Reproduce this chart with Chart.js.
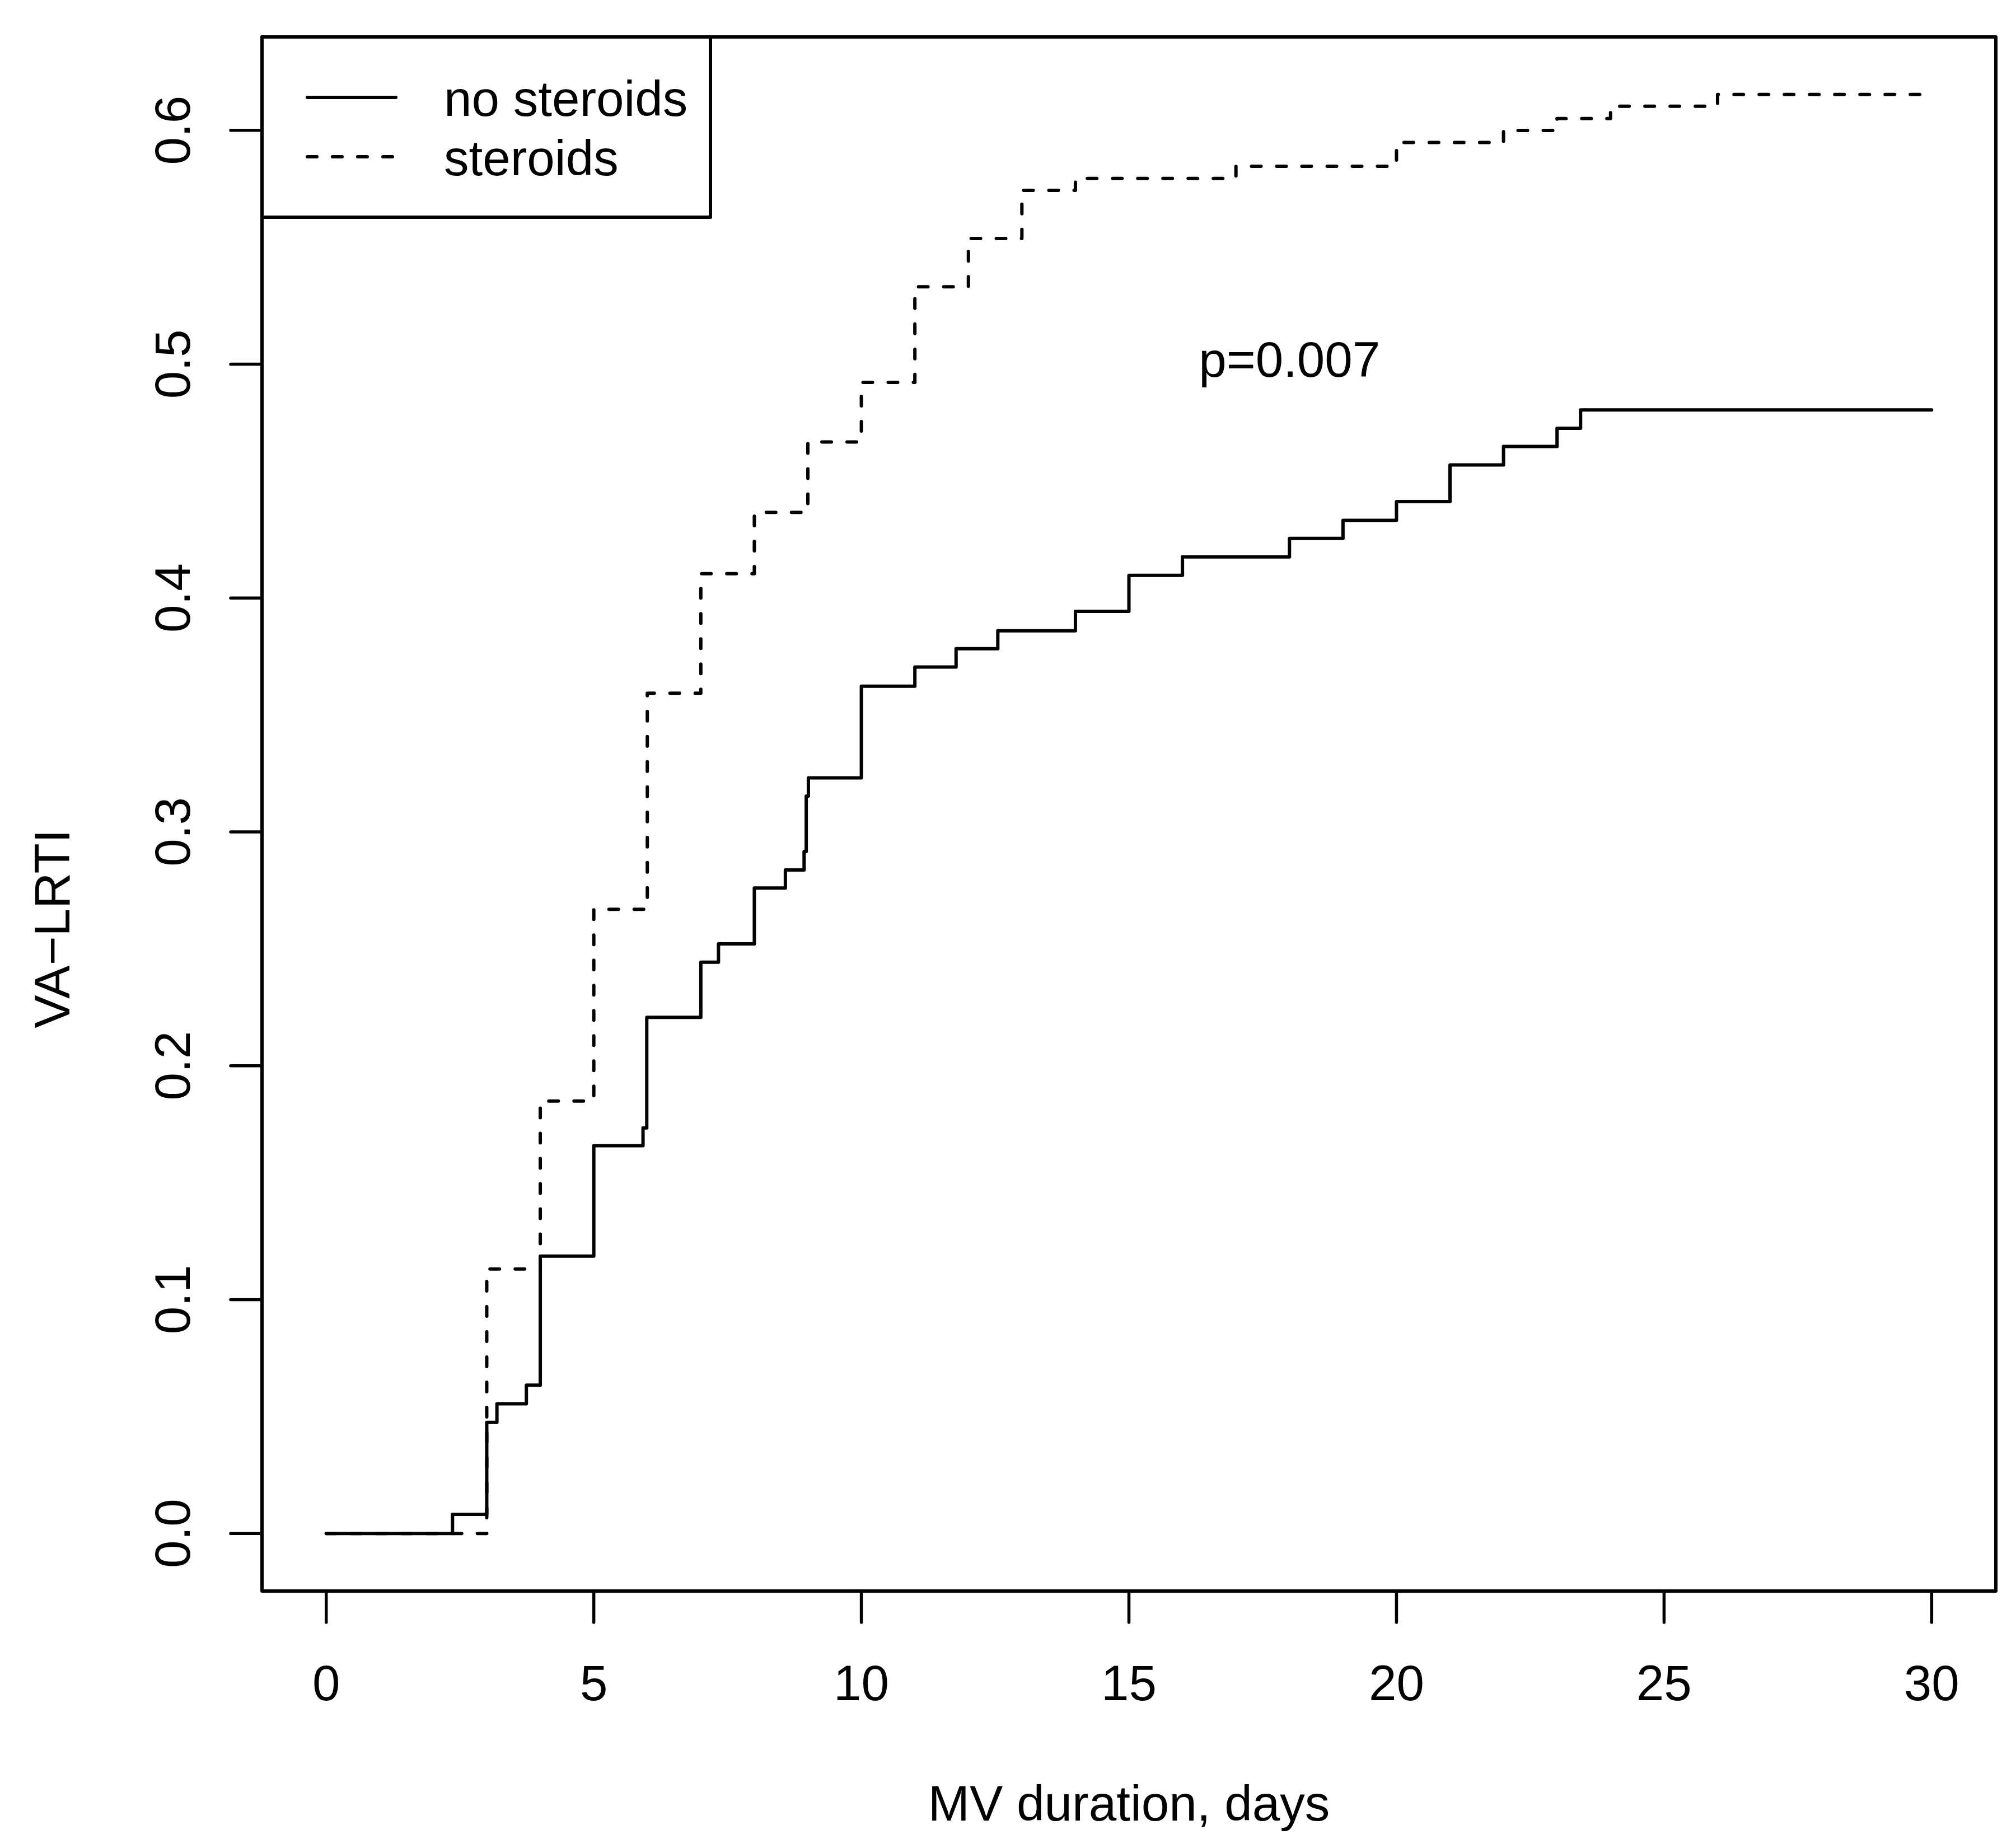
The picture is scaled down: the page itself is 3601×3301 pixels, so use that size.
<!DOCTYPE html>
<html><head><meta charset="utf-8">
<script src="https://cdn.jsdelivr.net/npm/chart.js@4.4.1/dist/chart.umd.min.js"></script>
<style>html,body{margin:0;padding:0;background:#fff;overflow:hidden}canvas{display:block}</style>
</head><body>
<canvas id="c" width="3601" height="3301" style="width:3601px;height:3301px"></canvas>
<script>
// ---- data ----
const noSteroidsT = [0, 2.36, 3.0, 3.19, 3.74, 4.0, 5.0, 5.92, 5.99, 7.0, 7.33, 8.0, 8.58, 8.93, 8.97, 9.01, 10.0, 11.0, 11.77, 12.55, 14.0, 15.0, 16.0, 18.0, 19.0, 20.0, 21.0, 22.0, 23.0, 23.44, 30];
const noSteroidsY = [0, 0.0082, 0.0475, 0.0555, 0.0634, 0.1186, 0.1658, 0.1734, 0.2207, 0.2443, 0.2521, 0.2760, 0.2837, 0.2916, 0.3153, 0.3231, 0.3623, 0.3705, 0.3783, 0.3860, 0.3943, 0.4097, 0.4176, 0.4255, 0.4332, 0.4412, 0.4569, 0.4648, 0.4726, 0.4804, 0.4804];
const steroidsT = [0, 3.0, 4.0, 5.0, 6.0, 7.0, 8.0, 9.0, 10.0, 11.0, 12.0, 13.0, 14.0, 17.0, 20.0, 22.0, 23.0, 24.0, 26.0, 30];
const steroidsY = [0, 0.1131, 0.1849, 0.2669, 0.3593, 0.4104, 0.4366, 0.4667, 0.4922, 0.5331, 0.5537, 0.5743, 0.5794, 0.5846, 0.5948, 0.5999, 0.6050, 0.6103, 0.6153, 0.6153];
const seriesNames = ['no steroids', 'steroids'];
const xTicks = [0, 5, 10, 15, 20, 25, 30];
const yTicks = [0, 0.1, 0.2, 0.3, 0.4, 0.5, 0.6];
const yTickLabels = ['0.0', '0.1', '0.2', '0.3', '0.4', '0.5', '0.6'];
const xTitle = 'MV duration, days';
const yTitle = 'VA\u2212LRTI';
const pText = 'p=0.007';
const pPos = [18, 0.5];
const xRange = [-1.2, 31.2];
const yRange = [-0.0246, 0.6399];

const FONT = '89px "Liberation Sans", Arial, Helvetica, sans-serif';

function seg(ctx, x1, y1, x2, y2) { ctx.beginPath(); ctx.moveTo(x1, y1); ctx.lineTo(x2, y2); ctx.stroke(); }

const decor = {
  id: 'decor',
  beforeDraw(chart) {
    const ctx = chart.ctx;
    ctx.save(); ctx.fillStyle = '#fff'; ctx.fillRect(0, 0, chart.width, chart.height); ctx.restore();
  },
  afterDraw(chart) {
    const { ctx, chartArea: a, scales: { x, y } } = chart;
    ctx.save();
    ctx.strokeStyle = '#000'; ctx.fillStyle = '#000';
    ctx.lineJoin = 'round'; ctx.lineCap = 'round';
    // plot box
    ctx.lineWidth = 6;
    ctx.strokeRect(a.left, a.top, a.right - a.left, a.bottom - a.top);
    // ticks
    ctx.lineWidth = 5.5;
    xTicks.forEach(v => { const px = x.getPixelForValue(v); seg(ctx, px, a.bottom, px, a.bottom + 56); });
    yTicks.forEach(v => { const py = y.getPixelForValue(v); seg(ctx, a.left, py, a.left - 56, py); });
    // tick labels
    ctx.font = FONT; ctx.textAlign = 'center'; ctx.textBaseline = 'alphabetic';
    xTicks.forEach(v => ctx.fillText(String(v), x.getPixelForValue(v), a.bottom + 195));
    yTicks.forEach((v, i) => {
      ctx.save(); ctx.translate(a.left - 129, y.getPixelForValue(v)); ctx.rotate(-Math.PI / 2);
      ctx.fillText(yTickLabels[i], 0, 0); ctx.restore();
    });
    // axis titles
    ctx.fillText(xTitle, (a.left + a.right) / 2, a.bottom + 410);
    ctx.save(); ctx.translate(a.left - 344, (a.top + a.bottom) / 2 + 205); ctx.rotate(-Math.PI / 2);
    ctx.fillText(yTitle, 0, 0); ctx.restore();
    // p value
    ctx.fillText(pText, x.getPixelForValue(pPos[0]), y.getPixelForValue(pPos[1]) + 23);
    // legend
    ctx.lineWidth = 6; ctx.lineCap = 'round';
    ctx.fillStyle = '#fff';
    ctx.fillRect(a.left, a.top, 801, 322);
    ctx.strokeRect(a.left, a.top, 801, 322);
    ctx.beginPath(); ctx.moveTo(a.left + 81, a.top + 108); ctx.lineTo(a.left + 239, a.top + 108); ctx.stroke();
    ctx.setLineDash([17, 28]);
    ctx.beginPath(); ctx.moveTo(a.left + 81, a.top + 214); ctx.lineTo(a.left + 239, a.top + 214); ctx.stroke();
    ctx.setLineDash([]);
    ctx.fillStyle = '#000'; ctx.textAlign = 'left';
    ctx.fillText(seriesNames[0], a.left + 325, a.top + 141);
    ctx.fillText(seriesNames[1], a.left + 325, a.top + 247);
    ctx.restore();
  }
};

new Chart(document.getElementById('c'), {
  type: 'line',
  data: {
    datasets: [
      { label: seriesNames[0], data: noSteroidsT.map((t, i) => ({ x: t, y: noSteroidsY[i] })),
        stepped: 'before', borderColor: '#000', borderWidth: 6, pointRadius: 0, fill: false,
        borderJoinStyle: 'round', borderCapStyle: 'round' },
      { label: seriesNames[1], data: steroidsT.map((t, i) => ({ x: t, y: steroidsY[i] })),
        stepped: 'before', borderColor: '#000', borderWidth: 6, pointRadius: 0, fill: false,
        borderDash: [17, 28], borderJoinStyle: 'round', borderCapStyle: 'round' }
    ]
  },
  options: {
    responsive: false, animation: false, devicePixelRatio: 1,
    layout: { padding: { left: 468, top: 66, right: 36, bottom: 459 } },
    plugins: { legend: { display: false }, tooltip: { enabled: false } },
    scales: {
      x: { type: 'linear', min: xRange[0], max: xRange[1], display: false },
      y: { type: 'linear', min: yRange[0], max: yRange[1], display: false }
    }
  },
  plugins: [decor]
});
</script>
</body></html>
